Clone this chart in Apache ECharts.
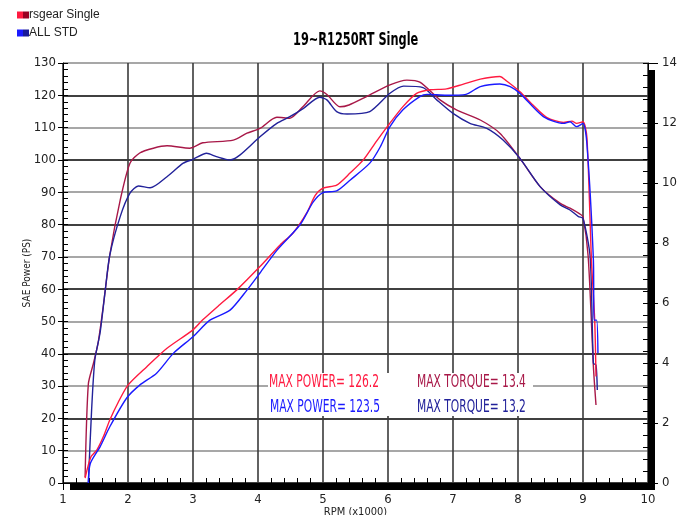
<!DOCTYPE html>
<html>
<head>
<meta charset="utf-8">
<script src="https://cdn.jsdelivr.net/npm/echarts@6/dist/echarts.min.js"></script>
<style>html,body{margin:0;padding:0;background:#fff}#c{width:678px;height:515px}</style>
</head>
<body>
<div id="c"></div>
<script>
// RPM (x1000) / PS pairs
const rsPower = [[1.34,1.5],[1.43,8.1],[1.52,10.2],[1.62,14.3],[1.72,19.5],[1.85,25],[2.0,30.3],[2.29,36],[2.6,41.7],[3.0,47.4],[3.15,50.5],[3.4,55],[3.67,59.7],[4.03,67],[4.34,73.7],[4.54,77.4],[4.75,83.6],[4.88,89],[5.0,91.3],[5.21,92.2],[5.42,96],[5.62,100],[5.83,106],[6.03,111.4],[6.23,116.5],[6.44,120.6],[6.65,121.7],[6.9,122],[7.15,123.4],[7.42,125],[7.72,125.8],[7.82,124.5],[8.03,121.1],[8.23,117],[8.44,113.2],[8.7,111.6],[8.83,112],[8.9,111.3],[9.0,111.8],[9.06,107],[9.13,69],[9.18,50.4],[9.2,33]];
const stdPower = [[1.39,0],[1.42,6],[1.57,11.2],[1.72,17.4],[1.98,26.3],[2.18,30.3],[2.44,34],[2.7,40.2],[3.0,45.3],[3.26,50.4],[3.57,53.5],[3.83,59.7],[4.03,65],[4.29,72],[4.65,80],[4.85,87],[5.0,89.9],[5.21,90.4],[5.42,93.8],[5.72,99],[5.88,104],[6.03,110.3],[6.23,115.5],[6.49,119.6],[6.6,120.3],[6.9,120],[7.2,120.3],[7.42,122.7],[7.72,123.5],[7.88,122.7],[8.03,120.6],[8.39,113.4],[8.7,111.3],[8.8,111.8],[8.9,110.3],[9.0,111.3],[9.06,105],[9.16,69],[9.17,50.4],[9.21,50.4],[9.23,40.2]];
// RPM (x1000) / kgf-m pairs
const rsTorque = [[1.34,0.2],[1.39,3.3],[1.47,4.0],[1.54,4.67],[1.62,5.9],[1.72,7.6],[1.88,9.43],[2.03,10.66],[2.18,11.0],[2.39,11.16],[2.6,11.24],[2.95,11.16],[3.15,11.34],[3.62,11.43],[3.83,11.66],[4.03,11.82],[4.29,12.19],[4.49,12.16],[4.69,12.54],[4.95,13.07],[5.06,12.95],[5.26,12.54],[5.4,12.6],[5.67,12.88],[6.03,13.27],[6.29,13.43],[6.49,13.36],[6.8,12.77],[7.06,12.43],[7.42,12.1],[7.72,11.66],[8.03,10.82],[8.34,9.88],[8.65,9.32],[8.8,9.16],[8.95,8.97],[9.0,8.88],[9.08,7.54],[9.16,3.88],[9.2,2.6]];
const stdTorque = [[1.39,0],[1.44,2.43],[1.49,4.1],[1.57,5.0],[1.65,6.43],[1.72,7.6],[1.88,8.88],[2.03,9.66],[2.16,9.9],[2.34,9.84],[2.6,10.21],[2.85,10.66],[3.0,10.79],[3.21,10.99],[3.36,10.88],[3.57,10.77],[3.72,10.93],[4.03,11.54],[4.29,11.99],[4.49,12.21],[4.7,12.49],[4.95,12.86],[5.06,12.77],[5.21,12.38],[5.37,12.3],[5.72,12.38],[6.03,12.99],[6.24,13.23],[6.54,13.18],[6.75,12.77],[7.0,12.32],[7.26,11.99],[7.52,11.82],[7.77,11.43],[8.03,10.82],[8.34,9.88],[8.65,9.27],[8.8,9.1],[8.93,8.88],[9.0,8.82],[9.11,7.54],[9.16,3.99],[9.2,3.93],[9.22,3.1]];
const legendNames = ['rsgear Single','ALL STD'];
const titleText = '19~R1250RT Single';
const notes = [['MAX POWER= 126.2','MAX TORQUE= 13.4'],['MAX POWER= 123.5','MAX TORQUE= 13.2']];

const NF = '"Liberation Sans Narrow","DejaVu Sans Condensed",sans-serif';
const C = {rp:'#ff1a40', rt:'#a81848', bp:'#1a1aff', bt:'#22229a'};

const chart = echarts.init(document.getElementById('c'));
const helperY = (pos, min, max, iv) => ({
  type:'value', position:pos, min, max, interval:iv,
  axisLine:{show:false}, axisLabel:{show:false}, splitLine:{show:false},
  axisTick:{show:true, inside:true, length:5, lineStyle:{color:'#000'}},
  minorTick:{show:true, splitNumber:5, length:5, lineStyle:{color:'#000'}}
});
const note = (txt, x, y, col) => ({type:'text', x:x, y:y, scaleX:0.7, z:11,
  style:{text:txt, fill:col, font:'17px '+NF, textVerticalAlign:'middle'}});
chart.setOption({
  animation:false,
  backgroundColor:'#fff',
  legend:{
    data:legendNames, orient:'vertical', left:12, top:4, itemGap:6,
    icon:'rect', itemWidth:6, itemHeight:7,
    formatter: n => (n === legendNames[0] ? '{r|}' : '{b|}') + n,
    textStyle:{fontFamily:'"Liberation Sans",Arial,sans-serif', fontSize:12, color:'#222', padding:[0,0,0,-5],
      rich:{r:{width:6,height:7,backgroundColor:'#990022'}, b:{width:6,height:7,backgroundColor:'#1a1a99'}}}
  },
  grid:{left:63, right:30, top:63, bottom:32, outerBoundsMode:'none', containLabel:false,
        show:true, backgroundColor:'#fff', borderWidth:0,
        shadowColor:'#000', shadowBlur:0, shadowOffsetX:7, shadowOffsetY:7},
  xAxis:[
    {type:'value', min:1, max:10, interval:1, name:'RPM (x1000)', nameLocation:'middle', nameGap:24, nameMoveOverlap:false,
     nameTextStyle:{fontFamily:NF, fontSize:11, color:'#222'},
     axisLine:{lineStyle:{color:'#000'}}, axisTick:{length:7, lineStyle:{color:'#000'}},
     axisLabel:{margin:10, fontFamily:NF, fontSize:13, color:'#222'},
     splitLine:{lineStyle:{color:'#3a3a3a', width:1.6}}},
    {type:'value', position:'bottom', min:1, max:10, interval:1,
     axisLine:{show:false}, axisLabel:{show:false}, splitLine:{show:false},
     axisTick:{show:false, inside:true},
     minorTick:{show:true, splitNumber:5, length:5, lineStyle:{color:'#000'}}},
    {type:'value', position:'top', min:1, max:10, interval:1,
     axisLine:{show:true, lineStyle:{color:'#000'}}, axisLabel:{show:false}, splitLine:{show:false},
     axisTick:{show:false}}
  ],
  yAxis:[
    {type:'value', position:'left', min:0, max:130, interval:10, name:'SAE Power (PS)', nameLocation:'middle', nameGap:31, nameMoveOverlap:false,
     nameTextStyle:{fontFamily:NF, fontSize:10, color:'#222'},
     axisLine:{show:true, lineStyle:{color:'#000'}}, axisTick:{show:true, length:5, lineStyle:{color:'#000'}},
     axisLabel:{margin:7, fontFamily:NF, fontSize:13, color:'#222'},
     splitLine:{lineStyle:{color:['#000','#8a8a8a'], width:1.6}}},
    {type:'value', position:'right', min:0, max:14, interval:2,
     axisLine:{show:true, lineStyle:{color:'#000'}}, axisTick:{show:true, length:10, lineStyle:{color:'#000'}},
     axisLabel:{margin:14, fontFamily:NF, fontSize:13, color:'#222'},
     splitLine:{show:false}},
    helperY('left', 0, 130, 10),
    helperY('right', 0, 14, 2)
  ],
  series:[
    {name:legendNames[0], type:'line', xAxisIndex:0, yAxisIndex:0, data:rsPower, smooth:0.25, showSymbol:false, color:C.rp, lineStyle:{width:1.4}, z:4},
    {name:legendNames[0]+' torque', type:'line', xAxisIndex:0, yAxisIndex:1, data:rsTorque, smooth:0.25, showSymbol:false, color:C.rt, lineStyle:{width:1.4}, z:3},
    {name:legendNames[1], type:'line', xAxisIndex:0, yAxisIndex:0, data:stdPower, smooth:0.25, showSymbol:false, color:C.bp, lineStyle:{width:1.4}, z:4},
    {name:legendNames[1]+' torque', type:'line', xAxisIndex:0, yAxisIndex:1, data:stdTorque, smooth:0.25, showSymbol:false, color:C.bt, lineStyle:{width:1.4}, z:3}
  ],
  graphic:[
    {type:'text', x:293, y:40, scaleX:0.7, z:11,
     style:{text:titleText, fill:'#000', font:'bold 18px '+NF, textVerticalAlign:'middle'}},
    {type:'rect', left:268, top:373, shape:{width:265, height:43}, style:{fill:'#fff'}, z:10},
    note(notes[0][0], 269, 383, C.rp),
    note(notes[0][1], 417, 383, C.rt),
    note(notes[1][0], 270, 408, C.bp),
    note(notes[1][1], 417, 408, C.bt)
  ]
});
</script>
</body>
</html>
